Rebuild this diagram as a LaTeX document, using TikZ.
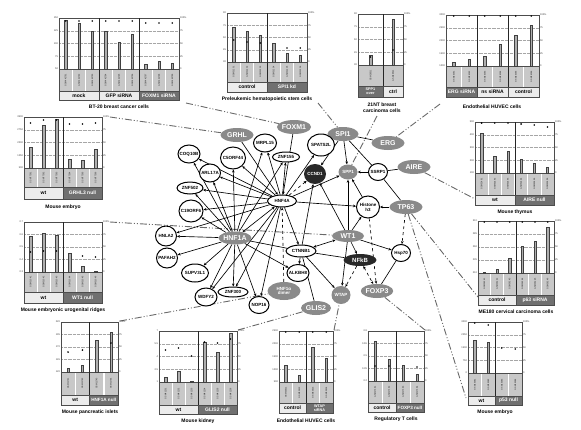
\documentclass[tikz,border=0pt]{standalone}
\usepackage{fontspec}
\setmainfont{Liberation Sans}
\usetikzlibrary{shapes.geometric, arrows.meta, positioning, calc}
\pgfdeclarelayer{background}
\pgfsetlayers{background,main}
\definecolor{tfgray}{RGB}{138,138,138}
\definecolor{hubdark}{RGB}{40,40,40}
\definecolor{cellgray}{RGB}{200,200,200}
\definecolor{grplight}{RGB}{236,236,236}
\definecolor{grpdark}{RGB}{112,112,112}
\definecolor{barfill}{RGB}{175,175,175}
\definecolor{connline}{RGB}{105,105,105}
\tikzset{
  tf/.style = {ellipse, fill=tfgray, text=white, inner sep=0pt,
    minimum width=33pt, minimum height=14pt,
    font=\fontsize{7}{7}\selectfont\bfseries},
  hub/.style = {tf, fill=hubdark},
  gene/.style = {ellipse, draw=black, line width=1pt, fill=white,
    inner xsep=-2pt, inner ysep=0pt, align=center,
    minimum width=22pt, minimum height=18pt,
    font=\fontsize{4.5}{4.8}\selectfont\bfseries},
  flat/.style = {gene, minimum width=29pt, minimum height=11pt},
  smalltxt/.style = {font=\fontsize{4.5}{4.8}\selectfont\bfseries},
  arr/.style  = {-{Stealth[length=3pt,width=2.6pt]}, line width=0.65pt},
  arr2/.style = {{Stealth[length=3pt,width=2.6pt]}-{Stealth[length=3pt,width=2.6pt]},
    line width=0.65pt},
  darr/.style = {arr, dashed},
  lnk/.style  = {line width=0.65pt},
  conn/.style = {draw=connline, line width=0.9pt,
    dash pattern=on 7pt off 2pt on 1pt off 2pt on 1pt off 2pt},
  gridline/.style  = {draw=gray!70, line width=0.3pt, densely dotted},
  chartline/.style = {draw=gray!60!black, line width=0.5pt},
  divline/.style   = {draw=black!85, line width=0.8pt},
  cell/.style = {fill=cellgray, draw=white, line width=0.5pt},
  bar/.style  = {fill=barfill, draw=gray!50!black, line width=0.3pt},
  axlbl/.style  = {font=\fontsize{2.5}{3}\selectfont, inner sep=0.8pt,
    text=gray!50!black},
  sampid/.style = {rotate=90, font=\fontsize{2.2}{2.5}\selectfont,
    inner sep=0pt, text=gray!30!black},
  grplt/.style = {draw=gray!60!black, line width=0.5pt, fill=grplight,
    inner sep=0pt, align=center, font=\fontsize{5}{5.2}\selectfont\bfseries},
  grpdk/.style = {grplt, fill=grpdark, text=white},
  chartcap/.style = {font=\fontsize{5}{6}\selectfont\bfseries, inner sep=0pt,
    align=center},
}
% chart frame: name, left, top, right, base, sample bottom, label bottom
\newcommand{\chartbox}[7]{%
  \foreach \k in {1,2,3}
    \draw[gridline] (#2,{#3+\k*(#5-#3)/4}) -- (#4,{#3+\k*(#5-#3)/4});
  \draw[chartline] (#2,#3) rectangle (#4,#7);
  \draw[chartline] (#2,#5) -- (#4,#5);
  \foreach \val [count=\k from 0] in {100\%,75,50,25,0}
    \node[axlbl, anchor=west] (#1r\k) at (#4,{#3+\k*(#5-#3)/4}) {\val};
}
% left axis: name, left, top, base, values
\newcommand{\leftaxis}[5]{%
  \foreach \val [count=\k from 0] in {#5}
    \node[axlbl, anchor=east] (#1l\k) at (#2,{#3+\k*(#4-#3)/4}) {\val};
}
% sample cells: name, centres, width, base, sample bottom, id stem
\newcommand{\samplecells}[6]{%
  \foreach \x [count=\n] in {#2} {
    \draw[cell] ({\x-#3/2},#4) rectangle ({\x+#3/2},#5);
    \node[sampid] (#1s\n) at (\x,{(#4+#5)/2}) {#6\n};
  }
}
\newcommand{\barset}[2]{\foreach \x/\yt in {#2}
  \draw[bar] ({\x-1.2},#1) rectangle ({\x+1.2},\yt);}
\newcommand{\pvals}[1]{\foreach \x/\yd in {#1} \fill (\x,\yd) circle (0.9pt);}
% group label: name, x0, x1, y0, y1, style, text
\newcommand{\grpbox}[7]{%
  \node[#6, minimum width={(#3-#2)*1pt}, minimum height={(#5-#4)*1pt}]
    (#1) at ({(#2+#3)/2},{(#4+#5)/2}) {#7};
}

\begin{document}
\begin{tikzpicture}[x=1pt, y=-1pt]
  \useasboundingbox (0,0) rectangle (581,429);

  %% -- Network ------------------------------------------------------------
  \node[tf] (grhl)  at (237,135) {GRHL};
  \node[tf] (foxm1) at (294,127) {FOXM1};
  \node[tf, minimum width=31pt] (spi1) at (343,134) {SPI1};
  \node[tf] (erg)   at (388,143) {ERG};
  \node[tf] (aire)  at (414,167) {AIRE};
  \node[tf] (tp63)  at (406,207) {TP63};
  \node[tf, minimum width=32pt, minimum height=12pt] (wt1) at (348,236) {WT1};
  \node[tf, minimum width=32pt, minimum height=13pt] (hnf1a) at (235,238) {HNF1A};
  \node[tf, minimum width=30pt] (glis2) at (316,308) {GLIS2};
  \node[tf, minimum width=32pt, minimum height=14pt] (foxp3) at (377,291) {FOXP3};
  \node[tf, smalltxt, minimum width=19pt, minimum height=18pt] (wtap) at (341,295) {WTAP};
  \node[tf, smalltxt, minimum width=19pt, minimum height=15pt] (spp1) at (348,172) {SPP1};
  \node[tf, smalltxt, align=center, minimum width=33pt, minimum height=18pt]
    (dimer) at (284,291) {HNF1α\\dimer};
  \node[hub, smalltxt, minimum width=22pt, minimum height=20pt] (ccnd1) at (315,174) {CCND1};
  \node[hub, font=\fontsize{6}{6}\selectfont\bfseries,
        minimum width=33pt, minimum height=12pt] (nfkb) at (360,260) {NFkB};

  \node[gene, minimum width=23pt] (mrpl15) at (265,143) {MRPL15};
  \node[flat, minimum width=27pt, minimum height=10pt] (znf155) at (286,157) {ZNF155};
  \node[gene, minimum width=25pt, minimum height=22pt] (c5orf44) at (233,158) {C5ORF44};
  \node[gene] (coq10b) at (189,154) {COQ10B};
  \node[gene, minimum width=21pt] (arl17a) at (210,173) {ARL17A};
  \node[flat, minimum width=26pt, minimum height=12pt] (znf502) at (190,188) {ZNF502};
  \node[flat, minimum width=29pt, minimum height=12pt] (hnf4a) at (282,201) {HNF4A};
  \node[gene, minimum width=24pt, minimum height=22pt] (c19orf6) at (191,211) {C19ORF6};
  \node[gene, minimum width=21pt, minimum height=20pt] (hnla2) at (166,236) {HNLA2};
  \node[gene, minimum width=21pt, minimum height=20pt] (pafah2) at (167,258) {PAFAH2};
  \node[gene, minimum width=27pt] (supv3l1) at (195,273) {SUPV3L1};
  \node[gene] (wdfy2) at (206,297) {WDFY2};
  \node[flat, minimum width=30pt, minimum height=10pt] (znf300) at (233,292) {ZNF300};
  \node[gene, minimum width=20pt, minimum height=17pt] (nop16) at (259,305) {NOP16};
  \node[gene, minimum width=22pt, minimum height=17pt] (alkbh8) at (298,273) {ALKBH8};
  \node[flat, minimum width=30pt, minimum height=12pt] (ctnnb1) at (301,251) {CTNNB1};
  \node[gene, minimum width=27pt, minimum height=22pt] (spats2l) at (321,145) {SPATS2L};
  \node[gene, minimum width=19pt, minimum height=17pt] (ssrp1) at (378,172) {SSRP1};
  \node[gene, minimum width=23pt, minimum height=22pt] (histh3) at (368,207) {Histone\\h3};
  \node[gene, minimum width=19pt, minimum height=17pt] (hsp70) at (401,253) {Hsp70};

  %% -- Charts -------------------------------------------------------------
  % BT-20 breast cancer cells
  \samplecells{bt}{65.7,79,92.3,105.7,119,132.3,145.7,159,172.3}{13.33}{69}{91}{GSM44279}
  \chartbox{bt}{59}{18}{179}{69}{91}{100}
  \leftaxis{bt}{59}{18}{69}{150,125,100,75,50}
  \barset{69}{65.7/20,79/23,92.3/31,105.7/31,119/42,132.3/34,145.7/64,159/61,172.3/63}
  \pvals{65.7/21,79/21,92.3/21,105.7/21,119/21,132.3/21,145.7/23,159/23,172.3/23}
  \foreach \x in {99,139} \draw[divline] (\x,18) -- (\x,100);
  \grpbox{bt_mock}{59}{99}{91}{100}{grplt}{mock}
  \grpbox{bt_gfp}{99}{139}{91}{100}{grplt}{GFP siRNA}
  \grpbox{bt_foxm1}{139}{179}{91}{100}{grpdk}{FOXM1 siRNA}
  \node[chartcap] (bt_cap) at (119,107) {BT-20 breast cancer cells};

  % Preleukemic hematopoietic stem cells
  \samplecells{pl}{233.7,247,260.3,273.7,287,300.3}{13.33}{62}{82}{GSM3120}
  \chartbox{pl}{227}{13}{307}{62}{82}{92}
  \leftaxis{pl}{227}{13}{62}{90,75,60,45,30}
  \barset{62}{233.7/27,247/31,260.3/35,273.7/43,287/53,300.3/55}
  \pvals{233.7/40,247/42,260.3/43,287/48,300.3/48}
  \draw[divline] (267,13) -- (267,92);
  \grpbox{pl_ctrl}{227}{267}{82}{92}{grplt}{control}
  \grpbox{pl_kd}{267}{307}{82}{92}{grpdk}{SPI1 kd}
  \node[chartcap] (pl_cap) at (267,99) {Preleukemic hematopoietic stem cells};

  % 21NT breast carcinoma cells
  \samplecells{nta}{370.5}{25}{65}{86}{GSM2851}
  \samplecells{ntb}{393}{20}{65}{86}{GSM2852}
  \chartbox{nt}{358}{14}{403}{65}{86}{97}
  \leftaxis{nt}{358}{14}{65}{90,75,60,45,30}
  \barset{65}{370.5/55,393/19}
  \pvals{370.5/57,393/50}
  \draw[divline] (383,14) -- (383,97);
  \grpbox{nt_spp1}{358}{383}{86}{97}{grpdk, font=\fontsize{3.8}{3.9}\selectfont\bfseries}{SPP1\\over}
  \grpbox{nt_ctrl}{383}{403}{86}{97}{grplt}{ctrl}
  \node[chartcap] (nt_cap) at (382,108) {21NT breast\\carcinoma cells};

  % Endothelial HUVEC cells (ERG)
  \samplecells{hu}{453.75,469.25,484.75,500.25,515.75,531.25}{15.5}{66}{87}{GSM2405}
  \chartbox{hu}{446}{15}{539}{66}{87}{97}
  \leftaxis{hu}{446}{15}{66}{3000,2500,2000,1500,1000}
  \barset{66}{453.75/62,469.25/59,484.75/56,500.25/44,515.75/35,531.25/25}
  \pvals{453.75/16,469.25/16,484.75/16,500.25/16,515.75/16,531.25/16}
  \foreach \x in {477,508} \draw[divline] (\x,15) -- (\x,97);
  \grpbox{hu_erg}{446}{477}{87}{97}{grpdk}{ERG siRNA}
  \grpbox{hu_ns}{477}{508}{87}{97}{grplt}{ns siRNA}
  \grpbox{hu_ctrl}{508}{539}{87}{97}{grplt}{control}
  \node[chartcap] (hu_cap) at (492,107) {Endothelial HUVEC cells};

  % Mouse embryo (GRHL3)
  \samplecells{me}{30.5,43.5,56.5,69.5,82.5,95.5}{13}{168}{187}{GSM7736}
  \chartbox{me}{24}{117}{102}{168}{187}{199}
  \leftaxis{me}{24}{117}{168}{3500,2750,2000,1250,500}
  \barset{168}{30.5/147,43.5/125,56.5/119,69.5/159,82.5/160,95.5/149}
  \pvals{30.5/123,43.5/120,56.5/120,69.5/124,82.5/124,95.5/123}
  \draw[divline] (63,117) -- (63,199);
  \grpbox{me_wt}{24}{63}{187}{199}{grplt}{wt}
  \grpbox{me_null}{63}{102}{187}{199}{grpdk}{GRHL3 null}
  \node[chartcap] (me_cap) at (63,207) {Mouse embryo};

  % Mouse embryonic urogenital ridges
  \samplecells{ur}{30.5,43.5,56.5,69.5,82.5,95.5}{13}{272}{292}{GSM3104}
  \chartbox{ur}{24}{222}{102}{272}{292}{303}
  \leftaxis{ur}{24}{222}{272}{0.7,0.6,0.5,0.4,0.3}
  \barset{272}{30.5/236,43.5/233,56.5/235,69.5/253,82.5/266,95.5/271}
  \pvals{30.5/252,43.5/251,56.5/251,82.5/256,95.5/257}
  \draw[divline] (63,222) -- (63,303);
  \grpbox{ur_wt}{24}{63}{292}{303}{grplt}{wt}
  \grpbox{ur_null}{63}{102}{292}{303}{grpdk}{WT1 null}
  \node[chartcap] (ur_cap) at (63,310) {Mouse embryonic urogenital ridges};

  % Mouse thymus
  \samplecells{th}{481.6,494.75,507.9,521.1,534.25,547.4}{13.17}{173}{195}{GSM5249}
  \chartbox{th}{475}{122}{554}{173}{195}{205}
  \leftaxis{th}{475}{122}{173}{500,400,300,200,100}
  \barset{173}{481.6/133,494.75/156,507.9/151,521.1/159,534.25/163,547.4/167}
  \pvals{481.6/123,494.75/123,507.9/123,521.1/124,534.25/125,547.4/127}
  \draw[divline] (515,122) -- (515,205);
  \grpbox{th_wt}{475}{515}{195}{205}{grplt}{wt}
  \grpbox{th_null}{515}{554}{195}{205}{grpdk}{AIRE null}
  \node[chartcap] (th_cap) at (515,212) {Mouse thymus};

  % ME180 cervical carcinoma cells
  \samplecells{mc}{484.3,497,509.7,522.3,535,547.7}{12.67}{273}{295}{GSM3624}
  \chartbox{mc}{478}{221}{554}{273}{295}{305}
  \leftaxis{mc}{478}{221}{273}{310,285,260,235,210}
  \barset{273}{484.3/272,497/269,509.7/258,522.3/246,535/241,547.7/227}
  \pvals{484.3/222,497/222,509.7/222,522.3/222,535/222,547.7/222}
  \draw[divline] (516,221) -- (516,305);
  \grpbox{mc_ctrl}{478}{516}{295}{305}{grplt}{control}
  \grpbox{mc_si}{516}{554}{295}{305}{grpdk}{p63 siRNA}
  \node[chartcap] (mc_cap) at (516,312) {ME180 cervical carcinoma cells};

  % Mouse pancreatic islets
  \samplecells{pi}{68.1,82.4,96.6,110.9}{14.25}{372}{395}{GSM1174}
  \chartbox{pi}{61}{322}{118}{372}{395}{405}
  \leftaxis{pi}{61}{322}{372}{220,195,170,145,120}
  \barset{372}{68.1/368,82.4/365,96.6/340,110.9/332}
  \pvals{68.1/352,82.4/350,110.9/343}
  \draw[divline] (89.5,322) -- (89.5,405);
  \grpbox{pi_wt}{61}{89.5}{395}{405}{grplt}{wt}
  \grpbox{pi_null}{89.5}{118}{395}{405}{grpdk, font=\fontsize{4.6}{4.8}\selectfont\bfseries}{HNF1A null}
  \node[chartcap] (pi_cap) at (90,412) {Mouse pancreatic islets};

  % Mouse kidney
  \samplecells{kd}{165.5,178.5,191.5,204.5,217.5,230.5}{13}{382}{405}{GSM4120}
  \chartbox{kd}{159}{331}{237}{382}{405}{414}
  \leftaxis{kd}{159}{331}{382}{7,5.5,4,2.5,1}
  \barset{382}{165.5/377,178.5/371,191.5/381,204.5/342,217.5/352,230.5/333}
  \pvals{165.5/350,178.5/348,191.5/356,204.5/342,217.5/343,230.5/339}
  \draw[divline] (198,331) -- (198,414);
  \grpbox{kd_wt}{159}{198}{405}{414}{grplt}{wt}
  \grpbox{kd_null}{198}{237}{405}{414}{grpdk}{GLIS2 null}
  \node[chartcap] (kd_cap) at (198,421) {Mouse kidney};

  % Endothelial HUVEC cells (WTAP)
  \samplecells{hb}{285.75,299.25,312.75,326.25}{13.5}{382}{403}{GSM3351}
  \chartbox{hb}{279}{331}{333}{382}{403}{413}
  \leftaxis{hb}{279}{331}{382}{2500,2000,1500,1000,500}
  \barset{382}{285.75/365,299.25/375,312.75/347,326.25/358}
  \pvals{285.75/332,299.25/332,312.75/332,326.25/332}
  \draw[divline] (306,331) -- (306,413);
  \grpbox{hb_ctrl}{279}{306}{403}{413}{grplt}{control}
  \grpbox{hb_si}{306}{333}{403}{413}{grpdk, font=\fontsize{3.8}{3.9}\selectfont\bfseries}{WTAP\\siRNA}
  \node[chartcap] (hb_cap) at (306,421) {Endothelial HUVEC cells};

  % Regulatory T cells
  \samplecells{rt}{375,389,403,417}{14}{381}{403}{GSM2738}
  \chartbox{rt}{368}{331}{424}{381}{403}{412}
  \leftaxis{rt}{368}{331}{381}{0.8,0.65,0.5,0.35,0.2}
  \barset{381}{375/341,389/359,403/365,417/374}
  \pvals{375/366,389/366,417/367}
  \draw[divline] (396,331) -- (396,412);
  \grpbox{rt_ctrl}{368}{396}{403}{412}{grplt}{control}
  \grpbox{rt_null}{396}{424}{403}{412}{grpdk, font=\fontsize{4.6}{4.8}\selectfont\bfseries}{FOXP3 null}
  \node[chartcap] (rt_cap) at (396,419) {Regulatory T cells};

  % Mouse embryo (p53)
  \samplecells{mb}{474.75,488.25,501.75,515.25}{13.5}{373}{396}{GSM1538}
  \chartbox{mb}{468}{322}{522}{373}{396}{405}
  \leftaxis{mb}{468}{322}{373}{3000,2250,1500,750,0}
  \barset{373}{474.75/340,488.25/342}
  \pvals{474.75/323,488.25/325,501.75/348,515.25/349}
  \draw[divline] (495,322) -- (495,405);
  \grpbox{mb_wt}{468}{495}{396}{405}{grplt}{wt}
  \grpbox{mb_null}{495}{522}{396}{405}{grpdk}{p53 null}
  \node[chartcap] (mb_cap) at (495,412) {Mouse embryo};

  %% -- Connectors and edges (behind the nodes) ----------------------------
  \coordinate (bt_c) at (186,103);
  \coordinate (pl_c) at (318,103);
  \coordinate (nt_c) at (377,116);
  \coordinate (hu_c) at (440,104);
  \coordinate (me_c) at (110,117);
  \coordinate (ur_c) at (110,222);
  \coordinate (th_c) at (475,199);
  \coordinate (mc_c) at (478,297);
  \coordinate (mb_c) at (466,398);
  \coordinate (pi_c) at (120,321);
  \coordinate (kd_c) at (238,330);
  \coordinate (hb_c) at (334,330);
  \coordinate (rt_c) at (425,330);

  \begin{pgfonlayer}{background}
    \draw[conn] (bt_c) -- (foxm1);
    \draw[conn] (pl_c) -- (spi1);
    \draw[conn] (nt_c) -- (spp1);
    \draw[conn] (hu_c) -- (erg);
    \draw[conn] (me_c) -- (grhl);
    \draw[conn] (ur_c) -- (wt1);
    \draw[conn] (aire) -- (th_c);
    \draw[conn] (tp63) -- (mc_c);
    \draw[conn] (tp63) -- (mb_c);
    \draw[conn] (pi_c) -- (dimer);
    \draw[conn] (kd_c) -- (glis2);
    \draw[conn] (hb_c) -- (wtap);
    \draw[conn] (foxp3) -- (rt_c);

    \foreach \tgt in {coq10b, c5orf44, mrpl15, znf155, arl17a, znf502, c19orf6,
                      hnla2, pafah2, supv3l1, wdfy2, znf300, nop16, alkbh8}
      \draw[arr] (hnf1a) -- (\tgt);
    \foreach \tgt in {coq10b, c5orf44, mrpl15, znf155, arl17a, znf502, c19orf6,
                      hnla2, znf300, wdfy2, nop16, spats2l, spp1, histh3, ctnnb1}
      \draw[arr] (hnf4a) -- (\tgt);
    \draw[arr2] (hnf1a) -- (hnf4a);
    \draw[lnk]  (hnf1a) -- (ctnnb1);
    \draw[darr] (hnf4a) -- (ccnd1);
    \draw[darr] (dimer) -- (hnf4a);
    \draw[arr]  (foxm1) -- (hnf4a);
    \draw[arr]  (grhl) -- (hnf4a);
    \foreach \tgt in {spats2l, spp1, ccnd1}
      \draw[arr] (spi1) -- (\tgt);
    \draw[lnk]  (erg) -- (spi1);
    \draw[lnk]  (spi1) -- (ssrp1);
    \draw[lnk]  (aire) -- (ssrp1);
    \draw[arr]  (ssrp1) -- (spp1);
    \draw[arr]  (histh3) -- (spp1);
    \draw[arr]  (tp63) -- (histh3);
    \draw[lnk]  (tp63) -- (ssrp1);
    \draw[darr] (tp63) -- (hsp70);
    \foreach \tgt in {ccnd1, spp1, histh3, nfkb, hsp70, wtap}
      \draw[arr] (wt1) -- (\tgt);
    \draw[arr2] (wt1) -- (ctnnb1);
    \draw[arr]  (ctnnb1) -- (alkbh8);
    \draw[lnk]  (ctnnb1) -- (glis2);
    \draw[arr]  (ctnnb1) -- (wtap);
    \draw[arr]  (ctnnb1) -- (ccnd1);
    \draw[lnk]  (ctnnb1) -- (nfkb);
    \draw[darr] (nfkb) -- (wtap);
    \draw[arr2, dashed] (nfkb) -- (foxp3);
    \draw[darr] (histh3) -- (foxp3);
    \draw[lnk]  (hsp70) -- (foxp3);
  \end{pgfonlayer}

\end{tikzpicture}
\end{document}
